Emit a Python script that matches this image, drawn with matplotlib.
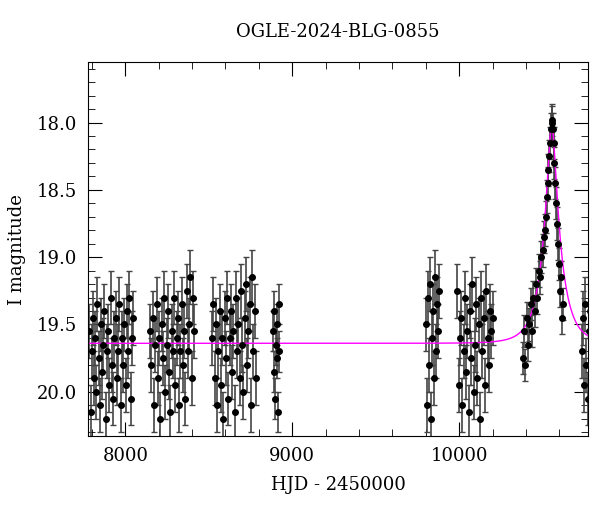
import numpy as np
import matplotlib
matplotlib.use("Agg")
import matplotlib.pyplot as plt
from matplotlib.ticker import MultipleLocator

title = "OGLE-2024-BLG-0855"
xlabel = "HJD - 2450000"
ylabel = "I magnitude"

# season data: (HJD-2450000, I mag, error)
s1_t = [7785,7792,7800,7806,7812,7820,7826,7833,7840,7846,7853,7860,7868,7875,7882,7890,7897,7905,7912,7920,7928,7935,7942,7950,7958,7965,7972,7980,7988,7995,8003,8010,8018,8025,8033,8040,8046]
s1_m = [19.55,20.15,19.7,19.45,19.9,19.6,20.0,19.35,19.75,20.1,19.5,19.85,19.65,19.4,20.2,19.7,19.55,19.95,19.3,19.8,20.05,19.6,19.45,19.9,19.7,19.35,20.1,19.6,19.8,19.5,19.95,19.4,19.7,19.3,20.05,19.6,19.45]
s1_e = 0.2
s2_t = [8150,8157,8165,8172,8180,8188,8195,8203,8210,8218,8226,8233,8240,8248,8256,8263,8270,8278,8286,8293,8300,8308,8316,8323,8330,8338,8346,8353,8360,8368,8376,8383,8390,8398,8405,8412]
s2_m = [19.55,19.8,19.45,20.1,19.65,19.35,19.9,19.6,20.2,19.5,19.75,19.3,20.0,19.65,19.4,19.85,20.15,19.55,19.7,19.3,19.95,19.6,19.45,20.1,19.7,19.35,19.8,19.55,20.05,19.25,19.7,19.5,19.15,19.9,19.3,19.55]
s2_e = 0.2
s3_t = [8520,8527,8535,8542,8550,8558,8565,8573,8580,8588,8596,8603,8610,8618,8626,8633,8640,8648,8656,8663,8670,8678,8686,8693,8700,8708,8716,8723,8730,8738,8746,8753,8760,8768,8776,8783]
s3_m = [19.6,19.35,19.9,19.5,20.1,19.7,19.4,19.95,19.6,20.2,19.45,19.75,19.3,20.05,19.6,19.4,19.85,19.55,20.15,19.3,19.7,19.5,19.9,19.25,19.65,20.0,19.45,19.2,19.8,19.55,19.35,20.1,19.15,19.7,19.4,19.9]
s3_e = 0.2
s4_t = [8885,8890,8894,8898,8902,8906,8910,8914,8918,8922]
s4_m = [19.55,19.85,19.4,20.05,19.65,19.75,19.5,20.15,19.35,19.7]
s4_e = 0.15
s5_t = [9800,9806,9812,9818,9824,9830,9836,9842,9848,9854,9860,9866,9872,9878]
s5_m = [19.5,20.1,19.3,19.8,19.2,20.2,19.6,19.4,19.9,19.15,19.7,19.35,19.55,19.25]
s5_e = 0.2
s6_t = [9990,9998,10005,10012,10020,10028,10035,10042,10050,10058,10065,10072,10080,10088,10095,10102,10110,10118,10125,10132,10140,10148,10155,10162,10170,10178,10185,10192,10200]
s6_m = [19.25,19.95,19.6,19.45,20.1,19.7,19.3,19.85,19.55,20.15,19.4,19.75,19.2,20.0,19.65,19.35,19.9,19.5,20.2,19.3,19.7,19.45,19.95,19.25,19.6,19.8,19.4,19.55,19.45]
s6_e = 0.2
s7_t = [10380,10388,10396,10404,10412,10420,10428,10436,10444,10452,10460,10468,10476,10484,10492,10500,10506,10512,10518,10524,10530,10535,10540,10545,10550,10554,10558,10562,10566,10570,10575,10580,10586,10592,10598,10604,10610,10616,10622]
s7_m = [19.75,19.55,19.8,19.45,19.65,19.5,19.35,19.55,19.3,19.4,19.2,19.3,19.1,19.15,19.0,18.95,18.85,18.8,18.7,18.55,18.45,18.35,18.25,18.15,18.05,17.98,18.0,18.05,18.15,18.3,18.45,18.6,18.75,18.9,19.05,19.25,19.15,19.45,19.35]
s7_e = 0.12
s8_t = [10735,10742,10749,10756,10763,10770,10777,10784]
s8_m = [19.7,19.45,19.95,19.35,19.8,20.05,19.55,19.4]
s8_e = 0.2

# microlensing model parameters
t0, u0, tE, Ibase = 10555.0, 0.23, 104.0, 19.64

seasons = [(s1_t,s1_m,s1_e),(s2_t,s2_m,s2_e),(s3_t,s3_m,s3_e),(s4_t,s4_m,s4_e),
           (s5_t,s5_m,s5_e),(s6_t,s6_m,s6_e),(s7_t,s7_m,s7_e),(s8_t,s8_m,s8_e)]

plt.rcParams["font.family"] = "DejaVu Serif"
fig = plt.figure(figsize=(6, 5.12), dpi=100)
ax = fig.add_axes([0.147, 0.148, 0.833, 0.731])

for t, m, e in seasons:
    ax.errorbar(t, m, yerr=e, fmt="o", ms=4, color="black", ecolor="#444444",
                elinewidth=1.2, capsize=2.5, capthick=1.0)

tt = np.linspace(7700, 10900, 3000)
u = np.sqrt(u0**2 + ((tt - t0) / tE)**2)
A = (u**2 + 2) / (u * np.sqrt(u**2 + 4))
ax.plot(tt, Ibase - 2.5 * np.log10(A), color="magenta", lw=1)

ax.set_xlim(7778, 10772)
ax.set_ylim(20.33, 17.55)
ax.xaxis.set_major_locator(MultipleLocator(1000))
ax.xaxis.set_minor_locator(MultipleLocator(200))
ax.yaxis.set_major_locator(MultipleLocator(0.5))
ax.yaxis.set_minor_locator(MultipleLocator(0.1))
ax.tick_params(which="both", direction="in", top=True, right=True, labelsize=13)
ax.tick_params(which="major", length=10, pad=8)
ax.tick_params(which="minor", length=5)
ax.set_xlabel(xlabel, fontsize=13, labelpad=8)
ax.set_ylabel(ylabel, fontsize=13, labelpad=8)
ax.set_title(title, fontsize=13, pad=18)
fig.savefig("out.png", dpi=100)
